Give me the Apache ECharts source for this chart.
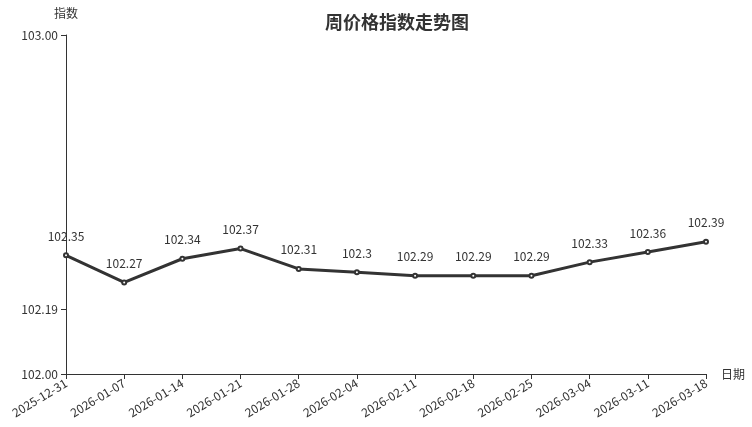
<!DOCTYPE html>
<html><head><meta charset="utf-8">
<script src="https://cdn.jsdelivr.net/npm/echarts@6/dist/echarts.min.js"></script>
<style>html,body{margin:0;padding:0;background:#fff}#c{width:752px;height:427px}</style>
</head><body><div id="c"></div>
<script>
const categories = ['2025-12-31','2026-01-07','2026-01-14','2026-01-21','2026-01-28','2026-02-04','2026-02-11','2026-02-18','2026-02-25','2026-03-04','2026-03-11','2026-03-18'];
const values = [102.35,102.27,102.34,102.37,102.31,102.3,102.29,102.29,102.29,102.33,102.36,102.39];
const yTicks = [102.00, 102.19, 103.00];
const font = '"Noto Sans CJK SC", "Noto Sans", sans-serif';
const chart = echarts.init(document.getElementById('c'));
chart.setOption({
  animation: false,
  textStyle: {fontFamily: font},
  title: {text: '周价格指数走势图', left: 320, top: 8, textStyle: {fontFamily: font, fontSize: 18, fontWeight: 'bold', color: '#333'}},
  grid: {left: 66, right: 46, top: 35, bottom: 53, containLabel: false},
  xAxis: {
    type: 'category', data: categories, boundaryGap: false, name: '日期',
    nameGap: 15, nameTextStyle: {color: '#333', fontSize: 12},
    axisLine: {lineStyle: {color: '#333'}},
    axisTick: {alignWithLabel: true, lineStyle: {color: '#333'}},
    axisLabel: {rotate: 31, color: '#333', fontSize: 12, interval: 0}
  },
  yAxis: {
    type: 'value', min: 102, max: 103, name: '指数',
    nameTextStyle: {color: '#333', fontSize: 12}, nameGap: 16,
    axisLine: {show: true, lineStyle: {color: '#333'}},
    axisTick: {show: true, customValues: yTicks, lineStyle: {color: '#333'}},
    axisLabel: {customValues: yTicks, color: '#333', fontSize: 12, formatter: v => v.toFixed(2)},
    splitLine: {show: false}
  },
  series: [{
    type: 'line', data: values, symbol: 'emptyCircle', symbolSize: 4,
    lineStyle: {color: '#333', width: 3}, itemStyle: {color: '#333', borderWidth: 1},
    label: {show: true, position: 'top', distance: 10, color: '#333', fontSize: 12}
  }]
});
</script></body></html>
